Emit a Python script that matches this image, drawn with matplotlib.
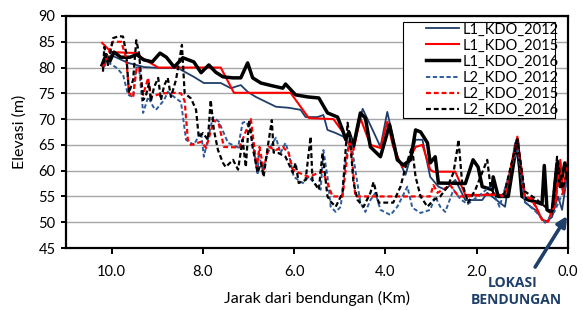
import matplotlib
matplotlib.use("Agg")
import matplotlib.pyplot as plt
from matplotlib.patches import Rectangle

plt.rcParams["font.family"] = ["Lato", "DejaVu Sans"]

# ---- data (km from dam, elevation m) ----
l1_2012_km = [10.19, 10.08, 10.01, 9.64, 9.29, 8.92, 8.55, 8.20, 7.98, 7.61, 7.39, 7.17, 7.02,
              6.84, 6.40, 6.12, 5.86, 5.75, 5.49, 5.36, 5.27, 5.09, 4.92, 4.81, 4.70, 4.50,
              4.26, 4.11, 3.96, 3.74, 3.56, 3.34, 3.19, 3.02, 2.84, 2.69, 2.47, 2.25, 1.88,
              1.77, 1.38, 1.16, 0.94, 0.72, 0.50, 0.35, 0.22, 0.13, 0.0]
l1_2012_el = [80.1, 81.9, 82.4, 80.9, 80.1, 79.9, 79.9, 78.2, 77.0, 77.0, 76.0, 76.6, 75.3,
              74.3, 72.4, 72.2, 71.8, 70.4, 70.4, 70.8, 67.9, 67.3, 66.6, 65.4, 64.5, 72.0,
              67.5, 64.6, 71.4, 62.7, 59.2, 66.0, 66.0, 58.8, 56.9, 56.3, 58.2, 54.3, 54.3,
              55.7, 53.0, 65.4, 53.8, 52.4, 49.9, 51.0, 55.0, 52.4, 60.2]

l1_2015_km = [10.21, 10.01, 9.42, 9.36, 8.98, 7.61, 7.32, 6.08, 5.86, 5.68, 5.14, 4.92, 4.77,
              4.70, 4.55, 4.33, 4.11, 3.96, 3.83, 3.63, 3.52, 3.34, 3.19, 3.02, 2.95, 2.47,
              2.25, 1.38, 1.11, 0.94, 0.79, 0.57, 0.44, 0.28, 0.17, 0.11, 0.0]
l1_2015_el = [84.8, 83.0, 82.8, 82.0, 80.0, 80.0, 75.1, 75.1, 72.4, 70.2, 70.0, 67.3, 64.6,
              64.0, 70.2, 65.0, 64.4, 69.5, 64.6, 60.7, 61.5, 64.6, 65.0, 60.2, 59.8, 59.8,
              55.3, 55.3, 66.6, 54.7, 54.7, 50.5, 50.1, 53.8, 62.1, 55.7, 62.1]

l1_2016_km = [10.21, 10.12, 10.05, 9.95, 9.80, 9.60, 9.45, 9.30, 9.11, 8.94, 8.80, 8.63, 8.44,
              8.20, 8.04, 7.87, 7.72, 7.56, 7.34, 7.17, 7.02, 6.91, 6.73, 6.50, 6.25, 6.19,
              5.97, 5.70, 5.46, 5.27, 5.05, 4.94, 4.87, 4.80, 4.70, 4.55, 4.44, 4.33, 4.11,
              3.91, 3.74, 3.61, 3.45, 3.34, 3.23, 3.08, 3.02, 2.91, 2.84, 2.25, 2.08, 1.97,
              1.88, 1.66, 1.64, 1.53, 1.31, 1.11, 1.01, 0.87, 0.72, 0.57, 0.52, 0.46, 0.35,
              0.24, 0.17, 0.07, 0.0]
l1_2016_el = [80.5, 82.5, 81.0, 83.0, 82.0, 82.0, 82.5, 81.5, 81.1, 82.8, 82.0, 80.1, 81.9,
              81.1, 79.0, 80.5, 79.1, 78.2, 78.0, 78.0, 80.9, 78.0, 77.0, 76.5, 76.0, 76.8,
              74.7, 74.3, 74.1, 71.2, 70.4, 67.9, 66.0, 67.5, 64.8, 71.2, 70.2, 64.6, 62.7,
              68.9, 62.1, 61.1, 62.1, 67.9, 67.5, 65.4, 61.5, 62.7, 57.6, 57.5, 62.1, 60.7,
              56.9, 56.3, 58.8, 55.0, 55.0, 66.0, 55.0, 54.3, 54.0, 53.5, 61.0, 52.4, 51.8,
              61.5, 56.9, 61.5, 58.8]

l2_2012_km = [10.19, 10.08, 9.90, 9.75, 9.64, 9.53, 9.46, 9.40, 9.31, 9.20, 9.09, 9.03, 8.85,
              8.77, 8.63, 8.48, 8.37, 8.20, 8.04, 7.98, 7.78, 7.65, 7.45, 7.23, 7.13, 7.06,
              6.95, 6.80, 6.78, 6.69, 6.58, 6.47, 6.40, 6.30, 6.19, 6.12, 6.01, 5.81, 5.68,
              5.49, 5.42, 5.36, 5.27, 5.20, 5.09, 4.98, 4.87, 4.77, 4.55, 4.44, 4.33, 4.22,
              4.11, 3.89, 3.74, 3.52, 3.41, 3.23, 3.02, 2.91, 2.80, 2.69, 2.51, 2.36, 2.20,
              1.90, 1.70, 1.50, 1.20, 1.10, 0.95, 0.70, 0.50, 0.30, 0.15, 0.0]
l2_2012_el = [80.0, 81.0, 80.0, 78.6, 74.7, 74.3, 80.0, 80.1, 71.2, 74.3, 72.4, 71.8, 73.7,
              75.3, 74.3, 73.3, 66.0, 65.0, 67.5, 62.7, 70.4, 69.5, 65.4, 64.5, 69.3, 69.5,
              67.9, 59.2, 63.4, 60.2, 63.4, 65.4, 66.4, 63.4, 65.4, 63.4, 58.8, 57.6, 58.8,
              56.9, 56.3, 64.0, 58.8, 53.0, 52.0, 53.0, 62.1, 66.5, 53.8, 52.0, 54.3, 55.7,
              52.4, 51.4, 53.0, 56.9, 52.8, 51.8, 52.4, 55.0, 53.0, 52.0, 56.3, 54.5, 53.5,
              55.5, 57.0, 53.0, 62.0, 64.0, 54.0, 52.0, 50.0, 52.0, 55.0, 58.0]

l2_2015_km = [10.19, 9.97, 9.79, 9.68, 9.62, 9.53, 9.46, 9.40, 9.31, 9.20, 9.14, 8.90, 8.59,
              8.48, 8.40, 8.33, 8.26, 8.04, 7.93, 7.76, 7.65, 7.54, 7.20, 7.02, 6.95, 6.86,
              6.82, 6.76, 6.67, 6.56, 6.40, 6.25, 6.12, 6.03, 5.90, 5.68, 5.46, 5.38, 5.27,
              5.16, 4.94, 4.83, 4.77, 4.66, 3.02, 2.95, 2.86, 2.58, 2.40, 2.20, 1.60, 1.40,
              1.11, 0.95, 0.80, 0.57, 0.44, 0.28, 0.17, 0.11, 0.0]
l2_2015_el = [80.1, 85.0, 85.0, 81.9, 75.1, 74.3, 79.5, 80.1, 74.7, 78.0, 74.3, 75.0, 75.1,
              75.0, 73.5, 66.0, 65.0, 65.6, 64.4, 69.8, 69.0, 64.6, 64.5, 68.5, 70.0, 63.5,
              60.5, 64.6, 60.2, 64.6, 64.0, 64.6, 63.4, 60.2, 59.6, 58.8, 59.6, 59.8, 57.6,
              55.0, 55.0, 63.4, 66.0, 55.0, 55.0, 57.2, 55.7, 57.2, 55.0, 55.0, 55.5, 55.0,
              66.0, 55.0, 54.5, 50.5, 50.1, 53.5, 61.5, 55.5, 61.5]

l2_2016_km = [10.19, 10.16, 10.08, 9.97, 9.84, 9.75, 9.68, 9.62, 9.53, 9.46, 9.40, 9.31, 9.25,
              9.18, 9.14, 9.07, 8.98, 8.92, 8.85, 8.77, 8.70, 8.59, 8.46, 8.40, 8.26, 8.15,
              8.09, 8.00, 7.89, 7.83, 7.76, 7.67, 7.56, 7.50, 7.34, 7.23, 7.13, 7.06, 6.99,
              6.91, 6.80, 6.73, 6.67, 6.58, 6.49, 6.45, 6.34, 6.19, 6.03, 5.97, 5.90, 5.75,
              5.64, 5.60, 5.46, 5.38, 5.27, 5.20, 5.09, 4.94, 4.83, 4.77, 4.70, 4.61, 4.48,
              4.33, 4.26, 4.15, 3.83, 3.67, 3.56, 3.42, 3.34, 3.23, 3.08, 2.95, 2.80, 2.64,
              2.51, 2.43, 2.40, 2.32, 2.19, 2.03, 1.77, 1.70, 1.60, 1.40, 1.11, 0.95, 0.70,
              0.50, 0.35, 0.24, 0.12, 0.0]
l2_2016_el = [79.2, 84.0, 80.5, 85.7, 86.1, 86.0, 82.8, 75.1, 77.6, 85.3, 82.8, 73.7, 74.5,
              77.0, 73.5, 76.2, 78.0, 73.7, 76.5, 78.0, 74.3, 77.6, 84.4, 75.0, 74.0, 71.8,
              66.4, 67.3, 66.0, 73.7, 67.9, 64.0, 61.5, 60.7, 62.1, 60.2, 66.0, 60.7, 69.8,
              64.5, 59.6, 61.5, 58.8, 64.6, 69.8, 63.5, 63.4, 62.7, 59.6, 61.5, 57.6, 58.2,
              66.6, 58.2, 56.3, 63.4, 55.0, 54.0, 53.0, 55.7, 69.3, 65.4, 57.6, 54.3, 53.0,
              55.7, 57.8, 53.8, 53.8, 56.9, 60.7, 64.6, 58.8, 55.0, 53.0, 54.3, 55.0, 56.9,
              59.6, 64.0, 66.0, 57.6, 53.8, 56.3, 62.1, 57.0, 55.0, 55.5, 66.0, 56.0, 54.5,
              53.0, 52.0, 62.7, 56.5, 60.0]

x_ticks = [10, 8, 6, 4, 2, 0]
x_ticklabels = ["10.0", "8.0", "6.0", "4.0", "2.0", "0.0"]

navy = "#1F3F6B"
blue_dash = "#2E5C9A"
dash = (0, (2.2, 1.3))

fig = plt.figure(figsize=(5.83, 3.10), dpi=100)
ax = fig.add_axes([0.1132, 0.2, 0.8611, 0.7484])

ax.plot(l1_2012_km, l1_2012_el, color=navy, lw=1.3, label="L1_KDO_2012")
ax.plot(l1_2015_km, l1_2015_el, color="#FF0000", lw=1.5, label="L1_KDO_2015")
ax.plot(l1_2016_km, l1_2016_el, color="black", lw=2.5, label="L1_KDO_2016")
ax.plot(l2_2012_km, l2_2012_el, color=blue_dash, lw=1.4, ls=dash, label="L2_KDO_2012")
ax.plot(l2_2015_km, l2_2015_el, color="#FF0000", lw=1.6, ls=dash, label="L2_KDO_2015")
ax.plot(l2_2016_km, l2_2016_el, color="black", lw=1.6, ls=dash, label="L2_KDO_2016")

ax.set_xlim(11, 0)
ax.set_ylim(45, 90)
ax.set_xticks(x_ticks)
ax.set_xticklabels(x_ticklabels)
ax.set_yticks(range(45, 91, 5))
ax.yaxis.grid(True, color="#A6A6A6", lw=1.0)
ax.set_axisbelow(True)
for s in ax.spines.values():
    s.set_linewidth(1.6)
    s.set_color("black")
ax.tick_params(axis="x", length=4, width=1.4, pad=8, labelsize=10.5)
ax.tick_params(axis="y", length=3.5, width=1.4, pad=4, labelsize=10.5)

ax.set_xlabel("Jarak dari bendungan (Km)", fontsize=11.5, labelpad=9)
ax.set_ylabel("Elevasi (m)", fontsize=11.5, labelpad=8)

# legend without frame, box drawn by hand (wider left margin like the original)
leg = ax.legend(loc="upper left", bbox_to_anchor=(0.717, 0.972), fontsize=10.5,
                frameon=False, handlelength=2.3, handletextpad=0.2,
                labelspacing=0.14, borderpad=0, borderaxespad=0)
ax.add_patch(Rectangle((0.671, 0.56), 0.303, 0.414, transform=ax.transAxes,
                       facecolor="white", edgecolor="black", lw=0.8, zorder=4.9))
leg.set_zorder(5)

# dam location note
ax.text(1.22, 38.2, "LOKASI", ha="center", va="center", fontsize=10,
        fontweight="bold", family="Open Sans", color=navy, clip_on=False)
ax.text(1.14, 34.9, "BENDUNGAN", ha="center", va="center", fontsize=10,
        fontweight="bold", family="Open Sans", color=navy, clip_on=False)
ax.annotate("", xy=(0.02, 51.2), xytext=(0.72, 41.3), annotation_clip=False,
            arrowprops=dict(arrowstyle="-|>", color=navy, lw=2.6,
                            mutation_scale=15, shrinkA=0, shrinkB=0))

fig.savefig("out.png", dpi=100)
